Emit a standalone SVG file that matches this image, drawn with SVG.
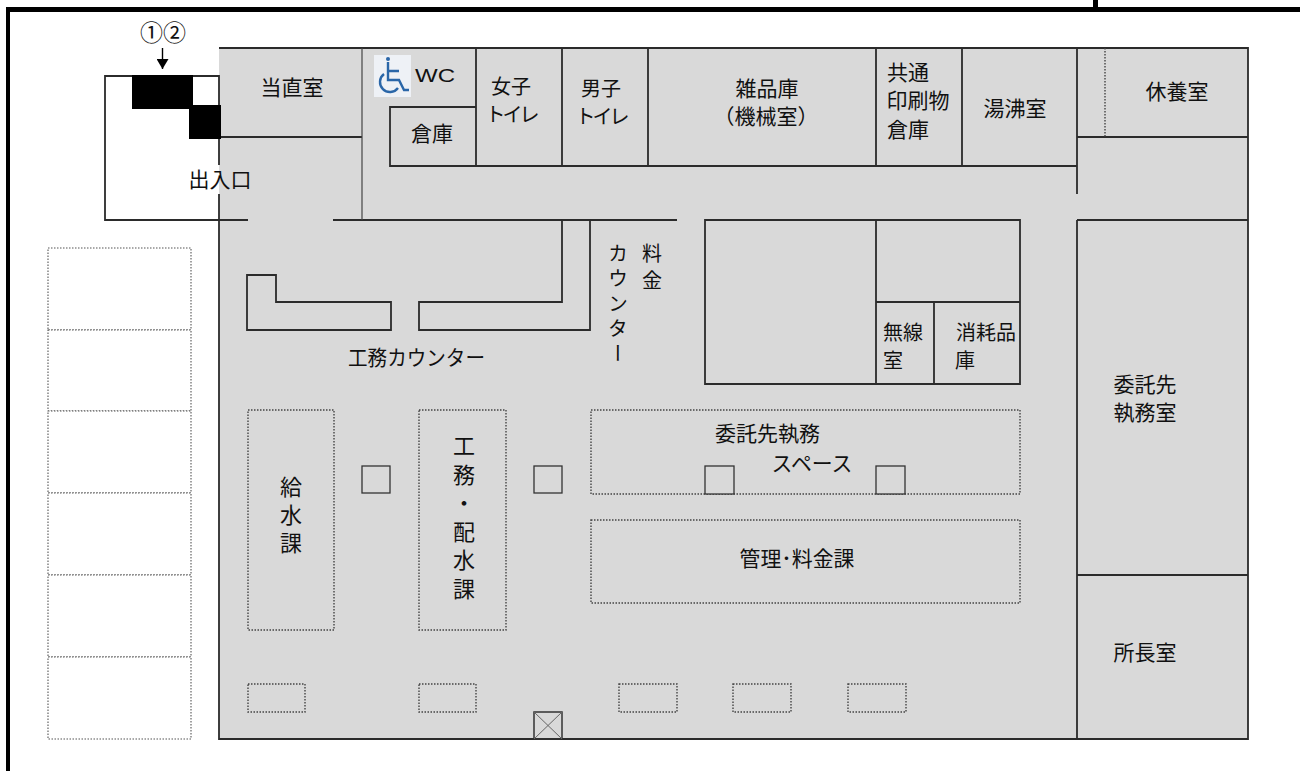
<svg xmlns="http://www.w3.org/2000/svg" width="1300" height="771" viewBox="0 0 1300 771">
<style>
text{font-family:"Noto Sans CJK JP","Liberation Sans",sans-serif;font-size:21px;fill:#111;text-anchor:middle}
text.v{writing-mode:vertical-rl;text-anchor:start}
.w{fill:none;stroke:#2b2b2b;stroke-width:1.8}
.t{fill:none;stroke:#444;stroke-width:1.2}
.d{fill:none;stroke:#444;stroke-width:1.4;stroke-dasharray:1.5 1.5}
.p{fill:#fff;stroke:#555;stroke-width:1.1;stroke-dasharray:1.5 1.5}
.c{fill:#d9d9d9;stroke:#333;stroke-width:1.3}
</style>
<defs><marker id="ah" markerWidth="11" markerHeight="12" refX="10" refY="6" orient="auto" markerUnits="userSpaceOnUse"><path d="M0 0L10 6L0 12Z" fill="#000"/></marker></defs>
<rect width="1300" height="771" fill="#fff"/>
<rect x="219" y="48" width="1029" height="691" fill="#d9d9d9"/>
<g id="frame" fill="#000"><rect x="6" y="7" width="1294" height="5"/><rect x="6" y="7" width="4" height="764"/><rect x="1093" y="0" width="5" height="8"/></g>
<g id="parking">
<rect class="p" x="48" y="248" width="143" height="82"/><rect class="p" x="48" y="330" width="143" height="81"/><rect class="p" x="48" y="411" width="143" height="82"/><rect class="p" x="48" y="493" width="143" height="82"/><rect class="p" x="48" y="575" width="143" height="82"/><rect class="p" x="48" y="657" width="143" height="82"/>
</g>
<g id="connectors">
<path class="w" d="M219 48H1248V739H219V194M219 165V76H105V220H248M333 220H677M219 137H362M390 107H476V166H390ZM476 48V166M562 48V166M648 48V166M876 48V166M962 48V166M476 166H1077M1077 48V194M1077 137H1248M1077 220H1248M1077 220V739M1077 575H1248"/>
<path class="t" d="M362 48V220"/>
<path class="w" d="M247 275H276V302H391V330H247ZM419 302H562V220H590V330H419Z"/>
<path class="w" d="M705 220H1020V384H705ZM876 220V384M876 302H1020M934 302V384"/>
<path class="d" d="M1105 48V137"/>
<path d="M162.500 48V69" stroke="#000" stroke-width="1.4" fill="none" marker-end="url(#ah)"/>
</g>
<g id="entrance-doors" fill="#000"><rect x="132" y="75" width="61" height="34"/><rect x="189" y="105" width="32" height="34"/></g>
<g id="label-entry"><text x="163" y="41" style="font-size:23px">①②</text><text x="220" y="187">出入口</text></g>
<g id="room-toilet-sign">
<rect x="374" y="55" width="37" height="42" fill="#eef1f6"/>
<g fill="none" stroke="#2a66a8" stroke-width="2.4"><path d="M388 62V80H399L404 90H409M388 71H399"/><path d="M384 74A10 10 0 1 0 398 88"/></g><circle cx="388" cy="59" r="2" fill="#2a66a8"/>
<text x="435" y="82" textLength="40" lengthAdjust="spacingAndGlyphs" style="font-family:'Liberation Sans',sans-serif;font-size:19px">WC</text>
</g>
<g id="room-labels">
<text x="511" y="94" style="font-size:20px">女子</text><text x="511" y="122" style="font-size:20px;letter-spacing:-3px">トイレ</text>
<text x="601" y="96" style="font-size:20px">男子</text><text x="601" y="124" style="font-size:20px;letter-spacing:-3px">トイレ</text>
<text x="292" y="95">当直室</text><text x="432" y="141">倉庫</text>
<text x="767" y="96">雑品庫</text><text x="766" y="124">（機械室）</text>
<text x="908" y="80">共通</text><text x="918" y="108">印刷物</text><text x="908" y="137">倉庫</text>
<text x="1015" y="116">湯沸室</text><text x="1177" y="99">休養室</text>
<text x="416.500" y="365" textLength="137" lengthAdjust="spacingAndGlyphs">工務カウンター</text>
<text class="v" x="652" y="243" style="font-size:20px;letter-spacing:7px">料金</text>
<text class="v" x="618" y="243" style="font-size:20px;letter-spacing:5px">カウンター</text>
<text x="903" y="340" style="font-size:20px">無線</text><text x="893" y="368" style="font-size:20px">室</text><text x="986" y="340" style="font-size:20px">消耗品</text><text x="965" y="368" style="font-size:20px">庫</text>
<text x="1145" y="392">委託先</text><text x="1145" y="420">執務室</text><text x="1145" y="660">所長室</text>
</g>
<g id="work-areas">
<rect class="d" x="248" y="410" width="86" height="220"/><rect class="d" x="419" y="410" width="87" height="220"/>
<rect class="d" x="591" y="410" width="429" height="84"/><rect class="d" x="591" y="520" width="429" height="83"/>
<text class="v" x="291" y="476" style="font-size:22px;letter-spacing:6px">給水課</text>
<text class="v" x="464" y="435" style="font-size:22px;letter-spacing:6.500px">工務・配水課</text>
<text x="767.500" y="441">委託先執務</text><text x="812" y="471" textLength="81" lengthAdjust="spacingAndGlyphs">スペース</text><text x="797" y="566" textLength="115" lengthAdjust="spacingAndGlyphs">管理･料金課</text>
</g>
<g id="columns">
<rect class="c" x="362" y="466" width="28" height="27"/><rect class="c" x="534" y="466" width="28" height="27"/><rect class="c" x="705" y="466" width="29" height="28"/><rect class="c" x="876" y="466" width="29" height="28"/>
</g>
<g id="desks">
<rect class="d" x="248" y="684" width="57" height="28"/><rect class="d" x="419" y="684" width="57" height="28"/><rect class="d" x="619" y="684" width="58" height="28"/><rect class="d" x="733" y="684" width="58" height="28"/><rect class="d" x="848" y="684" width="58" height="28"/>
</g>
<g id="elevator"><rect x="534" y="712" width="28" height="27" fill="none" stroke="#333" stroke-width="1.5"/><path d="M534 712L562 739M562 712L534 739" stroke="#666" stroke-width="1"/></g>
</svg>
